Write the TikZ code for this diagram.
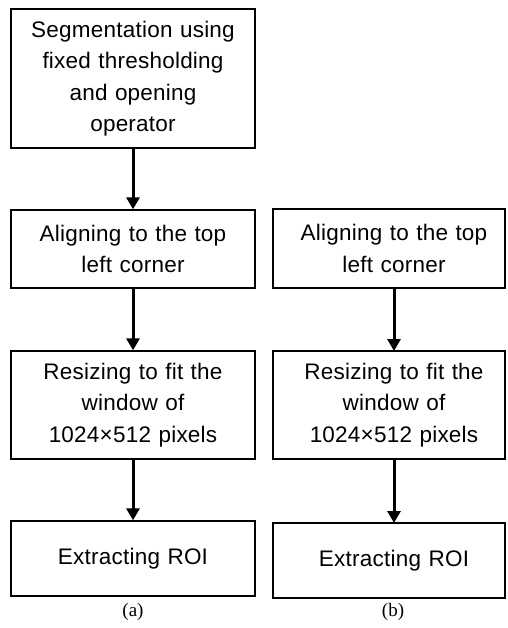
\documentclass[tikz,border=0pt]{standalone}
\usepackage{fontspec}
\setmainfont{Liberation Sans}[LetterSpace=1]
\newfontfamily\capfont{Liberation Serif}
\usetikzlibrary{arrows.meta}
\tikzset{
  stepbox/.style={draw=black, line width=1.3pt, inner sep=0pt, align=center,
    font=\fontsize{22.5}{31.5}\selectfont, text width=224pt},
  flow/.style={line width=3pt, -{Triangle[width=13pt,length=12pt]}},
  caplabel/.style={font=\capfont\fontsize{19}{22}\selectfont, inner sep=0pt}
}
\begin{document}
\begin{tikzpicture}[x=1pt,y=-1pt]
\useasboundingbox (0,0) rectangle (507,628);
% column (a)
\node[stepbox, minimum width=244pt, minimum height=139pt] (a1) at (133,78.5)
  {Segmentation using\\fixed thresholding\\and opening\\operator};
\node[stepbox, minimum width=244pt, minimum height=78pt] (a2) at (133,249)
  {Aligning to the top\\left corner};
\node[stepbox, minimum width=244pt, minimum height=108pt] (a3) at (133,405)
  {Resizing to fit the\\window of\\1024×512 pixels};
\node[stepbox, minimum width=244pt, minimum height=75pt] (a4) at (133,558.5)
  {Extracting ROI};
% column (b)
\node[stepbox, minimum width=232pt, minimum height=79pt] (b2) at (389,248.5)
  {\hspace*{10pt}Aligning to the top\\\hspace*{10pt}left corner};
\node[stepbox, minimum width=232pt, minimum height=108pt] (b3) at (389,405)
  {\hspace*{10pt}Resizing to fit the\\\hspace*{10pt}window of\\\hspace*{10pt}1024×512 pixels};
\node[stepbox, minimum width=232pt, minimum height=75pt] (b4) at (389,560.5)
  {\hspace*{10pt}Extracting ROI};
% arrows
\draw[flow] (a1.south) -- (a2.north);
\draw[flow] (a2.south) -- (a3.north);
\draw[flow] (a3.south) -- (a4.north);
\coordinate (b2s) at (394,288);
\coordinate (b3n) at (394,351);
\coordinate (b3s) at (394,459);
\coordinate (b4n) at (394,523);
\draw[flow] (b2s) -- (b3n);
\draw[flow] (b3s) -- (b4n);
% captions
\node[caplabel] (capa) at (133,612) {(a)};
\node[caplabel] (capb) at (393,612) {(b)};
\end{tikzpicture}
\end{document}
